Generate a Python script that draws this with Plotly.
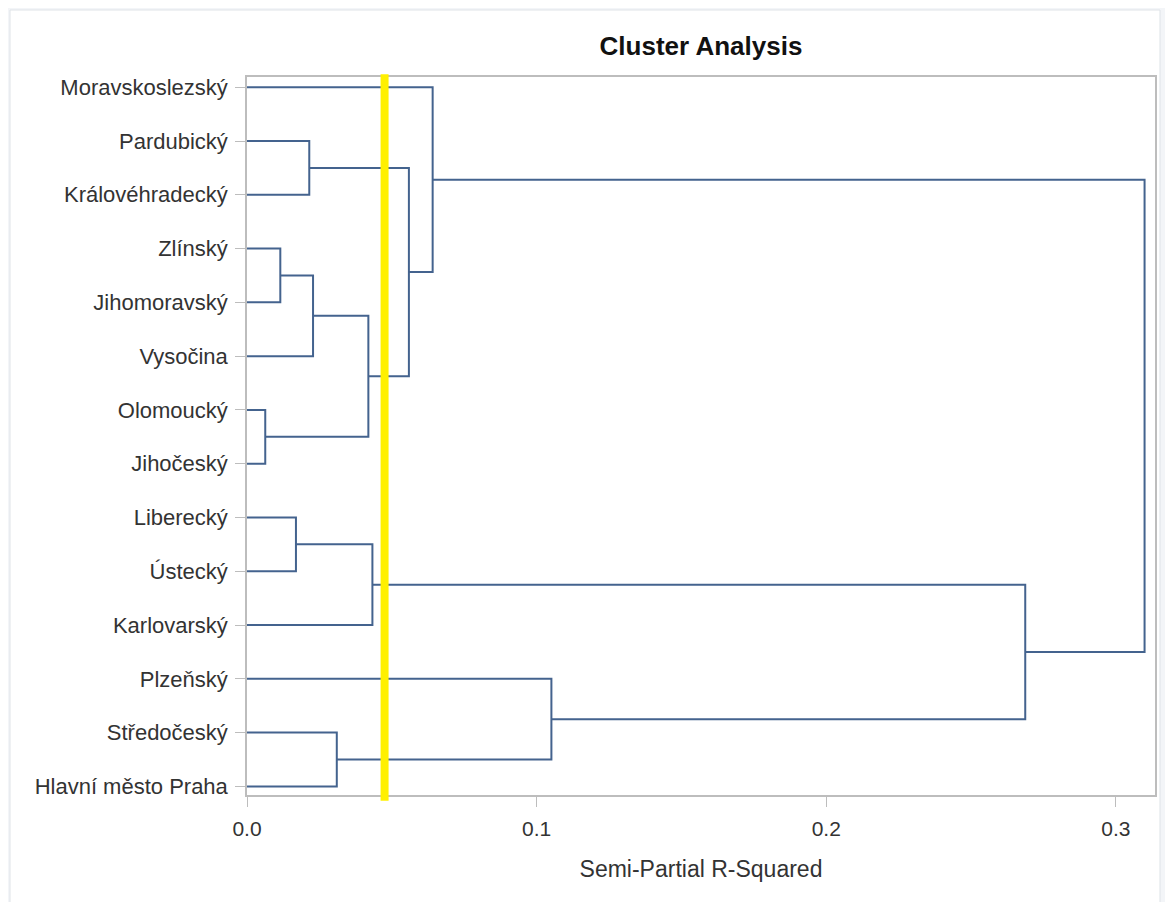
import plotly.graph_objects as go

# ---- data ----
leaves = ["Moravskoslezský", "Pardubický", "Královéhradecký", "Zlínský", "Jihomoravský",
          "Vysočina", "Olomoucký", "Jihočeský", "Liberecký", "Ústecký", "Karlovarský",
          "Plzeňský", "Středočeský", "Hlavní město Praha"]
# merges: node ids 0..13 are leaves, merges get ids 14, 15, ... in order
merge_left = [3, 6, 8, 1, 14, 12, 18, 16, 17, 0, 11, 21, 23]
merge_right = [4, 7, 9, 2, 5, 13, 15, 10, 20, 22, 19, 24, 25]
merge_height = [0.0115, 0.0063, 0.0169, 0.0215, 0.0228, 0.0310, 0.0419, 0.0433,
                0.0559, 0.0641, 0.1051, 0.2687, 0.3099]
cutoff = 0.0475
x_ticks = [0.0, 0.1, 0.2, 0.3]
x_tick_labels = ["0.0", "0.1", "0.2", "0.3"]

# ---- build dendrogram segments ----
n = len(leaves)
pos = {i: float(i) for i in range(n)}
hgt = {i: 0.0 for i in range(n)}
xs, ys = [], []
for k, (a, b, h) in enumerate(zip(merge_left, merge_right, merge_height)):
    node = n + k
    xs += [hgt[a], h, h, hgt[b], None]
    ys += [pos[a], pos[a], pos[b], pos[b], None]
    pos[node] = (pos[a] + pos[b]) / 2
    hgt[node] = h

FONT = "Liberation Sans, Arial, sans-serif"
TXT = "#333333"
W, H = 1165, 894

fig = go.Figure()
fig.add_trace(go.Scatter(x=xs, y=ys, mode="lines",
                         line=dict(color="#44638e", width=2),
                         hoverinfo="skip", showlegend=False))

# outer panel
fig.add_shape(type="rect", xref="paper", yref="paper",
              x0=-0.261, x1=1.0055, y0=-0.25, y1=1.0933,
              fillcolor="white", line=dict(color="#dfe3e8", width=1), layer="below")
# cutoff line
fig.add_shape(type="line", xref="x", yref="paper", x0=cutoff, x1=cutoff,
              y0=-0.008, y1=1.004, line=dict(color="#fff000", width=8))

fig.update_layout(
    width=W, height=H,
    margin=dict(l=239, r=18, t=69, b=107),
    paper_bgcolor="#f3f5f8", plot_bgcolor="white",
    font=dict(family=FONT, color=TXT, size=21),
    title=dict(text="<b>Cluster Analysis</b>", x=0.5, xref="paper", xanchor="center",
               y=1 - 38 / H, yref="container", yanchor="middle",
               font=dict(family=FONT, size=26, color="#111111")),
    showlegend=False,
)
fig.update_xaxes(range=[0, 0.3135], tickvals=x_ticks, ticktext=x_tick_labels,
                 showgrid=False, zeroline=False, showline=True, mirror=True,
                 linecolor="#bdbdbd", linewidth=1.5, ticks="outside", ticklen=10,
                 tickcolor="#bdbdbd", tickfont=dict(size=21, color=TXT),
                 ticklabelstandoff=4,
                 title=dict(text="Semi-Partial R-Squared", font=dict(size=23, color=TXT),
                            standoff=22))
fig.update_yaxes(range=[13.16, -0.19], tickvals=list(range(n)), ticktext=leaves,
                 showgrid=False, zeroline=False, showline=True, mirror=True,
                 linecolor="#bdbdbd", linewidth=1.5, ticks="outside", ticklen=10,
                 tickcolor="#bdbdbd", tickfont=dict(size=22, color=TXT),
                 ticklabelstandoff=3)

fig.write_html("out.html")
